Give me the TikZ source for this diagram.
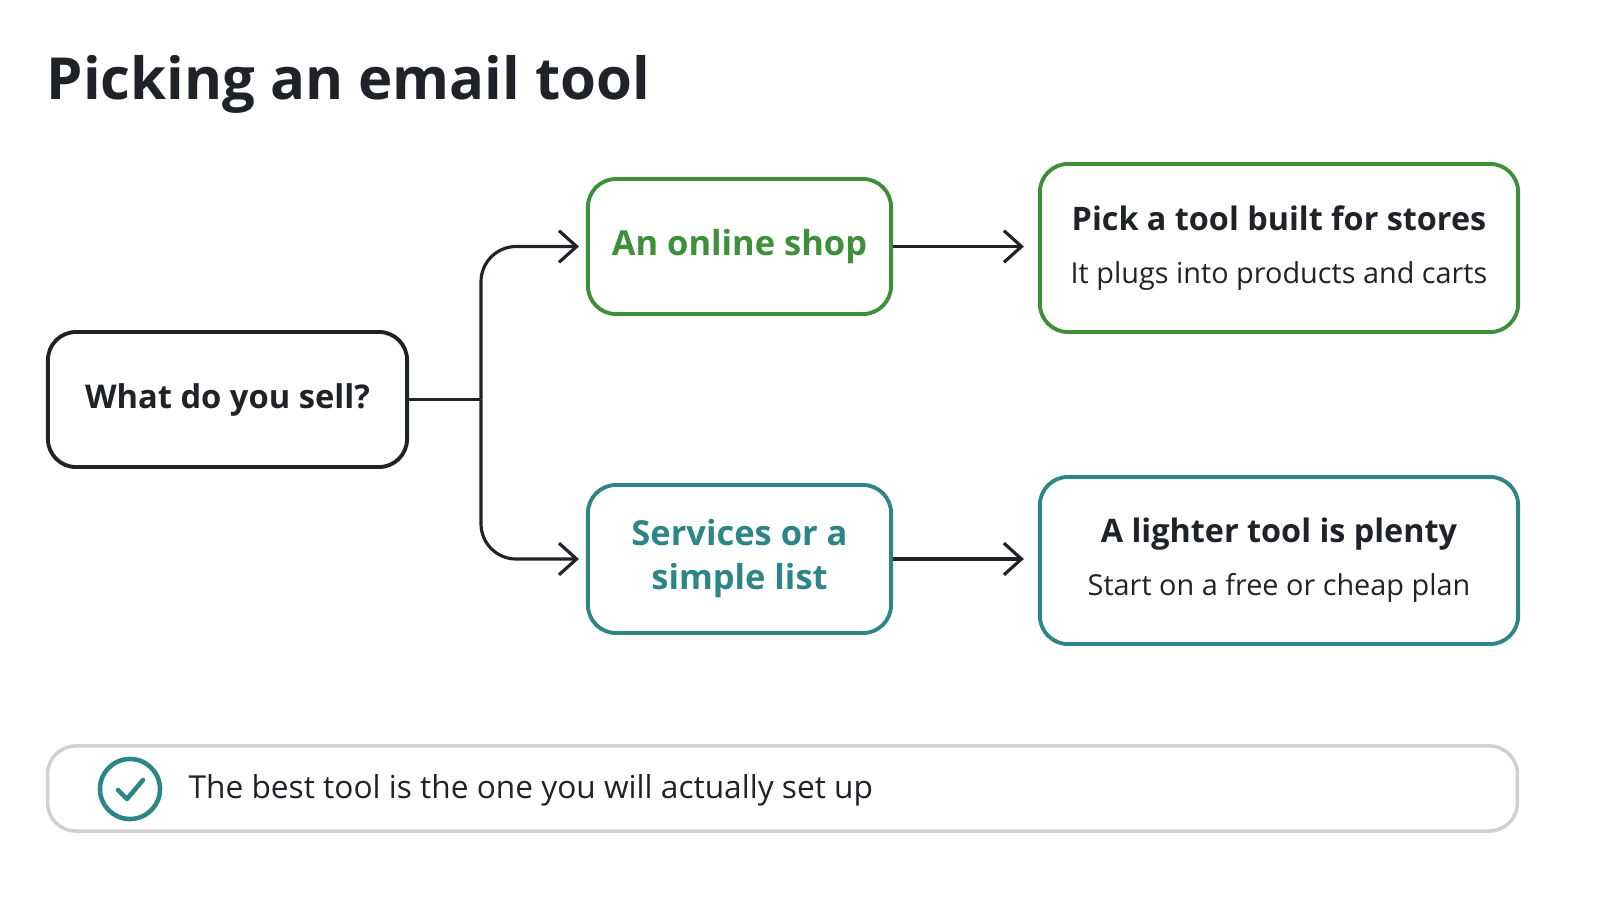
\documentclass[tikz,border=0pt]{standalone}
\usepackage{fontspec}
\setmainfont{Open Sans}
\usetikzlibrary{arrows.meta, positioning}
\definecolor{inkdark}{HTML}{1F2328}
\definecolor{shopgreen}{HTML}{3D8F3A}
\definecolor{listteal}{HTML}{2E8585}
\definecolor{framegray}{HTML}{D0D0D0}
\begin{document}
\begin{tikzpicture}[x=0.01cm, y=-0.01cm,
	box/.style={draw=inkdark, line width=1.1pt, rounded corners=8pt, align=center, inner sep=0pt},
	link/.style={draw=inkdark, line width=0.9pt, rounded corners=10pt, -{Straight Barb[length=5pt, width=9pt]}, shorten >=2pt}]
	\useasboundingbox[fill=white] (0,0) rectangle (1600,900);
	% title
	\node[anchor=base west, inner sep=0pt, text=inkdark, font=\fontsize{16.5}{20}\selectfont\bfseries] (title) at (46,100) {Picking an email tool};
	% question
	\node[box, minimum width=3.59cm, minimum height=1.35cm, font=\fontsize{9.3}{12}\selectfont\bfseries, text=inkdark] (sell) at (227.5,399.5) {What do you sell?};
	% answers
	\node[box, draw=shopgreen, minimum width=3.03cm, minimum height=1.35cm, font=\fontsize{9.8}{13}\selectfont\bfseries, text=shopgreen] (shop) at (739.5,246.5) {An online shop};
	\node[box, draw=listteal, minimum width=3.03cm, minimum height=1.48cm, font=\fontsize{9.8}{12.5}\selectfont\bfseries, text=listteal] (list) at (739.5,559) {Services or a\\simple list};
	% advice
	\node[box, draw=shopgreen, minimum width=4.78cm, minimum height=1.68cm, text=inkdark] (stores) at (1279,248)
		{{\fontsize{9.2}{12}\selectfont\bfseries Pick a tool built for stores}\\[3pt]{\fontsize{8.2}{10}\selectfont It plugs into products and carts}};
	\node[box, draw=listteal, minimum width=4.78cm, minimum height=1.67cm, text=inkdark] (lighter) at (1279,560.5)
		{{\fontsize{9.2}{12}\selectfont\bfseries A lighter tool is plenty}\\[3pt]{\fontsize{8.2}{10}\selectfont Start on a free or cheap plan}};
	% connectors
	\coordinate (fork) at (481,399.5);
	\draw[draw=inkdark, line width=0.9pt] (sell.east) -- (fork);
	\draw[link] (fork) |- (shop.west);
	\draw[link] (fork) |- (list.west);
	\draw[link, rounded corners=0pt, shorten >=4pt] (shop.east) -- (stores.west |- shop.east);
	\draw[link, rounded corners=0pt, shorten >=4pt] (list.east) -- (lighter.west |- list.east);
	% takeaway
	\node[draw=framegray, line width=1pt, rounded corners=8pt, minimum width=14.69cm, minimum height=0.85cm] (banner) at (782.5,788.5) {};
	\node[circle, draw=listteal, line width=1.3pt, minimum size=0.6cm, inner sep=0pt] (tick) at (130,789) {};
	\draw[listteal, line width=1.3pt, line cap=round, line join=round] ([shift={(-12,1)}]tick.center) -- ([shift={(-3,10)}]tick.center) -- ([shift={(13,-9)}]tick.center);
	\node[anchor=west, inner sep=0pt, text=inkdark, font=\fontsize{9}{12}\selectfont] (note) at (188,790) {The best tool is the one you will actually set up};
\end{tikzpicture}
\end{document}
